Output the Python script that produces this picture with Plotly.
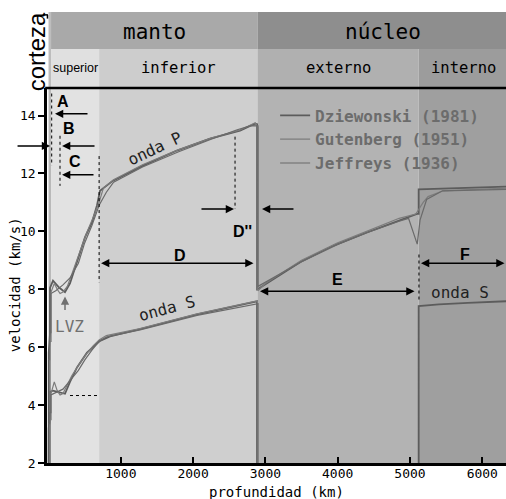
import plotly.graph_objects as go

# ---------------- data ----------------
models = ["Dziewonski (1981)", "Gutenberg (1951)", "Jeffreys (1936)"]

dz_p_depth = [0, 3, 3, 21, 21, 62, 150, 228, 297, 400, 505, 600, 671, 712, 893, 1308, 1777, 2234, 2649, 2856, 2885, 2885, 2925, 3479, 3935, 4405, 4862, 5097, 5120, 5120, 6371]
dz_p_vel = [1.45, 1.45, 5.8, 6.5, 8.05, 8.3, 8.05, 7.9, 8.2, 9.0, 9.8, 10.3, 10.9, 11.4, 11.75, 12.27, 12.79, 13.2, 13.48, 13.72, 13.7, 8.0, 8.05, 8.93, 9.5, 9.96, 10.4, 10.6, 10.6, 11.45, 11.55]
gu_p_depth = [0, 20, 20, 35, 35, 80, 120, 160, 200, 260, 320, 420, 520, 620, 700, 760, 900, 1300, 1800, 2250, 2650, 2860, 2895, 2895, 3000, 3500, 4000, 4400, 4850, 5080, 5180, 5250, 5460, 6371]
gu_p_vel = [1.6, 1.6, 6.2, 6.2, 7.9, 8.2, 8.0, 7.85, 7.9, 8.1, 8.5, 9.2, 9.9, 10.5, 11.0, 11.5, 11.78, 12.3, 12.82, 13.22, 13.5, 13.75, 13.6, 7.95, 8.2, 9.0, 9.6, 10.0, 10.45, 10.6, 10.99, 11.2, 11.4, 11.5]
je_p_depth = [0, 15, 15, 33, 33, 100, 200, 300, 413, 500, 600, 700, 800, 900, 1300, 1800, 2250, 2600, 2800, 2898, 2898, 3500, 4000, 4400, 4850, 4980, 5100, 5140, 5230, 5450, 6371]
je_p_vel = [5.57, 5.57, 6.5, 6.5, 7.85, 7.95, 8.15, 8.4, 8.9, 9.6, 10.2, 10.9, 11.35, 11.7, 12.22, 12.75, 13.18, 13.5, 13.65, 13.64, 8.1, 8.95, 9.55, 9.95, 10.35, 10.45, 9.56, 10.4, 11.1, 11.4, 11.45]

dz_s_depth = [0, 3, 3, 21, 21, 62, 150, 228, 297, 394, 532, 712, 850, 1266, 2054, 2884, 2884, 5120, 5120, 5400, 5800, 6371]
dz_s_vel = [0, 0, 3.2, 3.6, 4.46, 4.5, 4.45, 4.39, 4.8, 5.3, 5.81, 6.22, 6.37, 6.62, 7.13, 7.58, 0, 0, 7.42, 7.48, 7.53, 7.59]
gu_s_depth = [0, 20, 20, 35, 35, 80, 120, 160, 200, 260, 320, 420, 520, 620, 700, 800, 1266, 2054, 2890, 2890, 6371]
gu_s_vel = [0, 0, 3.5, 3.5, 4.4, 4.8, 4.5, 4.35, 4.4, 4.7, 5.0, 5.4, 5.75, 6.05, 6.25, 6.4, 6.64, 7.15, 7.6, 0, 0]
je_s_depth = [0, 15, 15, 33, 33, 100, 200, 300, 413, 500, 600, 700, 800, 1266, 2054, 2898, 2898, 6371]
je_s_vel = [3.36, 3.36, 3.74, 3.74, 4.35, 4.42, 4.55, 4.85, 5.2, 5.55, 5.9, 6.2, 6.35, 6.6, 7.1, 7.5, 0, 0]

# Earth layers (depth in km)
layer_top = [0, 35, 700, 2890, 5120]
layer_bottom = [35, 700, 2890, 5120, 6371]
layer_names = ["", "superior", "inferior", "externo", "interno"]
shell_names = ["manto", "núcleo"]
shell_top = [35, 2890]
shell_bottom = [2890, 6371]

x_ticks = [1000, 2000, 3000, 4000, 5000, 6000]
y_ticks = [2, 4, 6, 8, 10, 12, 14]

# ---------------- figure ----------------
MONO = "DejaVu Sans Mono"
SANS = "Liberation Sans"
line_colors = ["#5c5c5c", "#7c7c7c", "#6a6a6a"]
line_widths = [1.8, 1.2, 1.2]

fig = go.Figure()
P = [(dz_p_depth, dz_p_vel), (gu_p_depth, gu_p_vel), (je_p_depth, je_p_vel)]
S = [(dz_s_depth, dz_s_vel), (gu_s_depth, gu_s_vel), (je_s_depth, je_s_vel)]
for i, name in enumerate(models):
    fig.add_trace(go.Scatter(x=P[i][0], y=P[i][1], mode="lines", name=name,
                             legendgroup=name, showlegend=True,
                             line=dict(color=line_colors[i], width=line_widths[i])))
    fig.add_trace(go.Scatter(x=S[i][0], y=S[i][1], mode="lines", name=name,
                             legendgroup=name, showlegend=False,
                             line=dict(color=line_colors[i], width=line_widths[i])))

shapes = []
plot_cols = ["#b9b9b9", "#e2e2e2", "#cfcfcf", "#b3b3b3", "#9f9f9f"]
head_cols = ["#bdbdbd", "#e0e0e0", "#cdcdcd", "#b0b0b0", "#9c9c9c"]
for i in range(len(layer_top)):
    shapes.append(dict(type="rect", xref="x", yref="paper", x0=layer_top[i], x1=layer_bottom[i],
                       y0=0, y1=1, fillcolor=plot_cols[i], line_width=0, layer="below"))
    y1 = 1.2027 if i == 0 else 1.104
    shapes.append(dict(type="rect", xref="x", yref="paper", x0=layer_top[i], x1=layer_bottom[i],
                       y0=1.0, y1=y1, fillcolor=head_cols[i], line_width=0, layer="below"))
shell_cols = ["#a9a9a9", "#8e8e8e"]
for i in range(2):
    shapes.append(dict(type="rect", xref="x", yref="paper", x0=shell_top[i], x1=shell_bottom[i],
                       y0=1.104, y1=1.2027, fillcolor=shell_cols[i], line_width=0, layer="below"))
# top frame line
shapes.append(dict(type="line", xref="paper", yref="paper", x0=-0.004, x1=1, y0=1.0, y1=1.0,
                   line=dict(color="black", width=2.5)))
# corteza pointer
shapes.append(dict(type="line", xref="paper", yref="paper", x0=-0.009, x1=0.002, y0=1.195, y1=1.195,
                   line=dict(color="black", width=1.5)))
shapes.append(dict(type="line", xref="paper", yref="paper", x0=0.001, x1=0.001, y0=1.195, y1=1.185,
                   line=dict(color="black", width=1.5)))

# dotted boundary markers (depth, v_from, v_to)
dotted_v = [(44, 14.76, 12.27), (159, 13.3, 11.57), (700, 12.6, 8.24), (2580, 13.27, 10.77), (5124, 9.2, 7.6)]
for d, a, b in dotted_v:
    shapes.append(dict(type="line", xref="x", yref="y", x0=d, x1=d, y0=a, y1=b,
                       line=dict(color="black", width=1, dash="dot")))
shapes.append(dict(type="line", xref="x", yref="y", x0=297, x1=700, y0=4.33, y1=4.33,
                   line=dict(color="black", width=1, dash="dot")))

ann = []


def text(x, y, t, font, xref="x", yref="y", angle=0):
    ann.append(dict(x=x, y=y, xref=xref, yref=yref, text=t, showarrow=False, textangle=angle,
                    xanchor="center", yanchor="middle", font=font))


# header texts
for i in range(2):
    text((shell_top[i] + shell_bottom[i]) / 2, 1.149, shell_names[i],
         dict(family=MONO, size=21, color="black"), yref="paper")
for i in range(1, len(layer_top)):
    fnt = dict(family=SANS, size=12.5, color="black") if i == 1 else dict(family=MONO, size=15.5, color="black")
    text((layer_top[i] + layer_bottom[i]) / 2, 1.052, layer_names[i], fnt, yref="paper")
text(-0.024, 1.098, "corteza", dict(family=SANS, size=24, color="black"), xref="paper", yref="paper", angle=-90)

# axis titles
text(0.5, -0.077, "profundidad (km)", dict(family=MONO, size=14, color="black"), xref="paper", yref="paper")
text(-0.069, 0.475, "velocidad (km/s)", dict(family=MONO, size=14, color="black"), xref="paper", yref="paper", angle=-90)


# arrows (tip, tail) in data coords
def arrow(x, y, ax, ay, both=False, color="black"):
    ann.append(dict(x=x, y=y, ax=ax, ay=ay, xref="x", yref="y", axref="x", ayref="y",
                    text="", showarrow=True, arrowhead=2, arrowsize=1.1, arrowwidth=1.5,
                    arrowcolor=color, arrowside="end+start" if both else "end",
                    standoff=0, startstandoff=0))


arrow(90, 14.06, 560, 14.06)
arrow(187, 12.95, 657, 12.95)
arrow(187, 11.95, 643, 11.95)
arrow(727, 8.9, 2856, 8.9, both=True)
arrow(2566, 10.77, 2095, 10.77)
arrow(2953, 10.77, 3409, 10.77)
arrow(2925, 7.93, 5083, 7.93, both=True)
arrow(5152, 8.9, 6328, 8.9, both=True)
ann.append(dict(x=21, y=12.95, ax=-34, ay=0, xref="x", yref="y", text="", showarrow=True,
                arrowhead=2, arrowsize=1.1, arrowwidth=1.5, arrowcolor="black", standoff=0))
arrow(228, 7.75, 228, 7.23, color="#707070")  # LVZ arrow

BOLD = dict(family=SANS, size=16, color="black", weight="bold")
for t, x, y in [("A", 200, 14.5), ("B", 284, 13.54), ("C", 367, 12.4), ("D", 1819, 9.17),
                ("D''", 2690, 10.0), ("E", 4004, 8.34), ("F", 5760, 9.2)]:
    text(x, y, t, BOLD)

text(1473, 12.85, "onda P", dict(family=MONO, size=16, color="#222222"), angle=-25)
text(1639, 7.34, "onda S", dict(family=MONO, size=16, color="#222222"), angle=-15)
text(5690, 7.9, "onda S", dict(family=MONO, size=16, color="#222222"))
text(297, 6.71, "LVZ", dict(family=MONO, size=16, color="#707070"))

fig.update_layout(
    width=506, height=499,
    margin=dict(l=47, r=0, t=88, b=36, autoexpand=False),
    paper_bgcolor="white", plot_bgcolor="white",
    shapes=shapes, annotations=ann,
    showlegend=True,
    legend=dict(x=0.497, y=0.972, xanchor="left", yanchor="top", bgcolor="rgba(0,0,0,0)",
                font=dict(family=MONO, size=16, color="#6c6c6c", weight="bold"),
                tracegroupgap=0, itemwidth=30),
    xaxis=dict(range=[-21, 6328], tickvals=x_ticks, ticks="inside", ticklen=6, tickwidth=1.5,
               tickcolor="black", showline=True, linecolor="black", linewidth=2.5,
               showgrid=False, zeroline=False, automargin=False, ticklabelstandoff=-3,
               tickfont=dict(family=MONO, size=13, color="black")),
    yaxis=dict(range=[2, 14.95], tickvals=y_ticks, ticks="outside", ticklen=6, tickwidth=1.5,
               tickcolor="black", showline=True, linecolor="black", linewidth=2.5,
               showgrid=False, zeroline=False, automargin=False,
               tickfont=dict(family=MONO, size=13, color="black")),
)

fig.write_html("out.html", config={"displayModeBar": False},
               post_script="document.body.style.margin='0';document.body.style.overflow='hidden';")
